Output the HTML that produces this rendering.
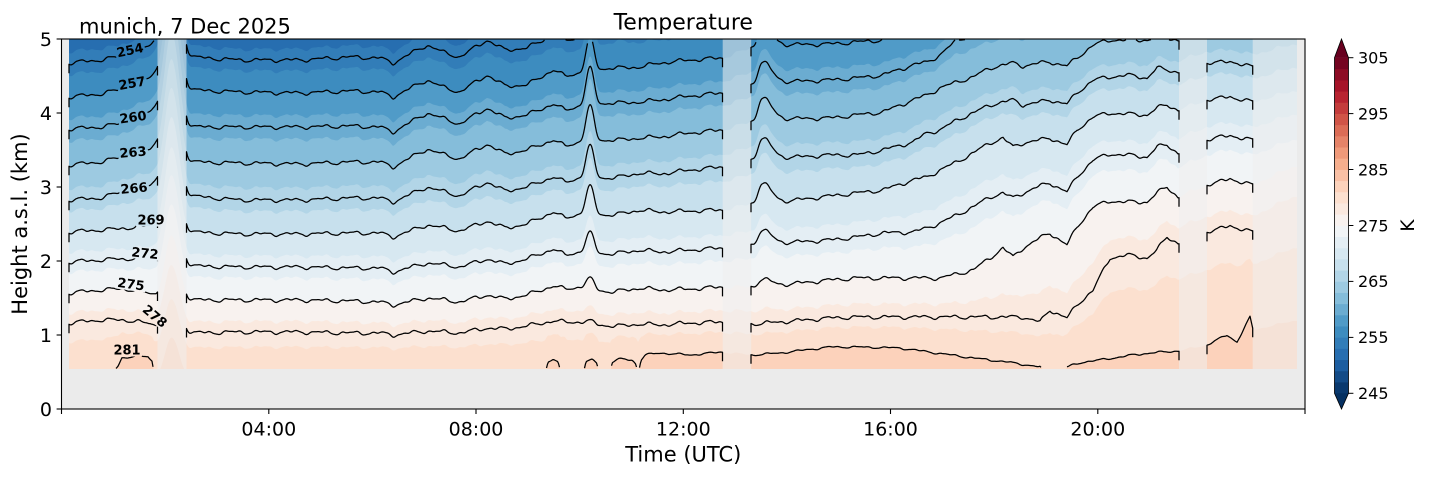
<!DOCTYPE html>
<html><head><meta charset="utf-8">
<style>
html,body{margin:0;padding:0;background:#fff;}
svg{display:block;}
text{font-family:"DejaVu Sans","Liberation Sans",sans-serif;fill:#000;}
</style></head>
<body>
<svg id="s" width="1429" height="478" viewBox="0 0 1429 478" xmlns="http://www.w3.org/2000/svg">
<defs>
 <linearGradient id="fb" x1="0" y1="0" x2="0" y2="1">
   <stop offset="0" stop-color="#3a86bf"/>
   <stop offset="0.3" stop-color="#7fb6d8"/>
   <stop offset="0.55" stop-color="#c9e0ee"/>
   <stop offset="0.78" stop-color="#f3eeeb"/>
   <stop offset="1" stop-color="#fcd7c2"/>
 </linearGradient>
 <linearGradient id="cbg" x1="0" y1="1" x2="0" y2="0">
   <stop offset="0" stop-color="#053061"/><stop offset="0.1" stop-color="#2166ac"/>
   <stop offset="0.2" stop-color="#4393c3"/><stop offset="0.3" stop-color="#92c5de"/>
   <stop offset="0.4" stop-color="#d1e5f0"/><stop offset="0.5" stop-color="#f7f7f7"/>
   <stop offset="0.6" stop-color="#fddbc7"/><stop offset="0.7" stop-color="#f4a582"/>
   <stop offset="0.8" stop-color="#d6604d"/><stop offset="0.9" stop-color="#b2182b"/>
   <stop offset="1" stop-color="#67001f"/>
 </linearGradient>
 <clipPath id="dc"><rect x="69" y="39" width="1228" height="330"/></clipPath>
 <mask id="lm" maskUnits="userSpaceOnUse" x="0" y="0" width="1429" height="478">
   <rect x="0" y="0" width="1429" height="478" fill="#fff"/>
   <g fill="#000">
     <rect x="-15" y="-6.5" width="30" height="13" transform="translate(130,50) rotate(-12)"/>
     <rect x="-15" y="-6.5" width="30" height="13" transform="translate(132,83) rotate(-10)"/>
     <rect x="-15" y="-6.5" width="30" height="13" transform="translate(133,117) rotate(-8)"/>
     <rect x="-15" y="-6.5" width="30" height="13" transform="translate(133,152) rotate(-5)"/>
     <rect x="-15" y="-6.5" width="30" height="13" transform="translate(134,188) rotate(-5)"/>
     <rect x="-15" y="-6.5" width="30" height="13" transform="translate(151,220) rotate(0)"/>
     <rect x="-15" y="-6.5" width="30" height="13" transform="translate(145,253) rotate(6)"/>
     <rect x="-15" y="-6.5" width="30" height="13" transform="translate(131,284) rotate(8)"/>
     <rect x="-15" y="-6.5" width="30" height="13" transform="translate(155,316) rotate(40)"/>
     <rect x="-15" y="-6.5" width="30" height="13" transform="translate(127,350) rotate(0)"/>
   </g>
 </mask>
</defs>

<rect x="61.5" y="39" width="1243.5" height="370" fill="#ebebeb"/>

<g clip-path="url(#dc)">
  <rect x="69" y="39" width="1228" height="330" fill="url(#fb)"/>
  <g id="fills"></g>
</g>

<g fill="#eeeeee" fill-opacity="0.55">
  <rect x="157.5" y="39" width="29" height="330"/>
  <rect x="722.7" y="39" width="28.5" height="330"/>
  <rect x="1179" y="39" width="28" height="330"/>
  <rect x="1252.7" y="39" width="44.3" height="330"/>
</g>

<g id="lines" fill="none" stroke="#000" stroke-width="1.25" stroke-linejoin="round" mask="url(#lm)"></g>

<g font-size="13" font-weight="bold" text-anchor="middle">
  <text transform="translate(130,50) rotate(-12)" y="4.7">254</text>
  <text transform="translate(132,83) rotate(-10)" y="4.7">257</text>
  <text transform="translate(133,117) rotate(-8)" y="4.7">260</text>
  <text transform="translate(133,152) rotate(-5)" y="4.7">263</text>
  <text transform="translate(134,188) rotate(-5)" y="4.7">266</text>
  <text transform="translate(151,220) rotate(0)" y="4.7">269</text>
  <text transform="translate(145,253) rotate(6)" y="4.7">272</text>
  <text transform="translate(131,284) rotate(8)" y="4.7">275</text>
  <text transform="translate(155,316) rotate(40)" y="4.7">278</text>
  <text transform="translate(127,350) rotate(0)" y="4.7">281</text>
</g>

<rect x="61.5" y="39" width="1243.5" height="370" fill="none" stroke="#000" stroke-width="1.1"/>

<g stroke="#000" stroke-width="1.1">
  <line x1="56.6" y1="409" x2="61.5" y2="409"/>
  <line x1="56.6" y1="335" x2="61.5" y2="335"/>
  <line x1="56.6" y1="261" x2="61.5" y2="261"/>
  <line x1="56.6" y1="187" x2="61.5" y2="187"/>
  <line x1="56.6" y1="113" x2="61.5" y2="113"/>
  <line x1="56.6" y1="39" x2="61.5" y2="39"/>
</g>
<g font-size="19" text-anchor="end">
  <text x="52" y="416">0</text>
  <text x="52" y="342">1</text>
  <text x="52" y="268">2</text>
  <text x="52" y="194">3</text>
  <text x="52" y="120">4</text>
  <text x="52" y="46">5</text>
</g>

<g stroke="#000" stroke-width="1.1">
  <line x1="61.5" y1="409" x2="61.5" y2="414"/>
  <line x1="268.8" y1="409" x2="268.8" y2="414"/>
  <line x1="476" y1="409" x2="476" y2="414"/>
  <line x1="683.3" y1="409" x2="683.3" y2="414"/>
  <line x1="890.5" y1="409" x2="890.5" y2="414"/>
  <line x1="1097.8" y1="409" x2="1097.8" y2="414"/>
  <line x1="1305" y1="409" x2="1305" y2="414"/>
</g>
<g font-size="19" text-anchor="middle">
  <text x="268.8" y="435.5">04:00</text>
  <text x="476" y="435.5">08:00</text>
  <text x="683.3" y="435.5">12:00</text>
  <text x="890.5" y="435.5">16:00</text>
  <text x="1097.8" y="435.5">20:00</text>
</g>

<text x="683.3" y="461.5" font-size="21" text-anchor="middle">Time (UTC)</text>
<text transform="translate(27,224) rotate(-90)" font-size="21" text-anchor="middle">Height a.s.l. (km)</text>
<text x="683.3" y="29.5" font-size="22" text-anchor="middle">Temperature</text>
<text x="79" y="33.7" font-size="21">munich, 7 Dec 2025</text>

<rect x="1334.5" y="57.7" width="14" height="335.6" fill="url(#cbg)"/>
<g id="cbands"></g>
<polygon points="1334.5,57.7 1348.5,57.7 1341.5,39" fill="#67001f"/>
<polygon points="1334.5,393.3 1348.5,393.3 1341.5,409" fill="#053061"/>
<path d="M1334.5,57.7 L1341.5,39 L1348.5,57.7 L1348.5,393.3 L1341.5,409 L1334.5,393.3 Z" fill="none" stroke="#000" stroke-width="0.8"/>
<g stroke="#000" stroke-width="1">
  <line x1="1348.5" y1="57.7" x2="1353.4" y2="57.7"/>
  <line x1="1348.5" y1="113.6" x2="1353.4" y2="113.6"/>
  <line x1="1348.5" y1="169.5" x2="1353.4" y2="169.5"/>
  <line x1="1348.5" y1="225.5" x2="1353.4" y2="225.5"/>
  <line x1="1348.5" y1="281.4" x2="1353.4" y2="281.4"/>
  <line x1="1348.5" y1="337.4" x2="1353.4" y2="337.4"/>
  <line x1="1348.5" y1="393.3" x2="1353.4" y2="393.3"/>
</g>
<g font-size="16">
  <text x="1358" y="63.5">305</text>
  <text x="1358" y="119.4">295</text>
  <text x="1358" y="175.3">285</text>
  <text x="1358" y="231.3">275</text>
  <text x="1358" y="287.2">265</text>
  <text x="1358" y="343.2">255</text>
  <text x="1358" y="399.1">245</text>
</g>
<text transform="translate(1414,225.5) rotate(-90)" font-size="18.5" text-anchor="middle">K</text>
</svg>

<script>
(function(){
var C=[[5,48,97],[33,102,172],[67,147,195],[146,197,222],[209,229,240],[247,247,247],[253,219,199],[244,165,130],[214,96,77],[178,24,43],[103,0,31]];
function cmap(t){
  if(t<0)return 'rgb(5,48,97)'; if(t>1)return 'rgb(103,0,31)';
  var s=t*10,i=Math.min(9,Math.floor(s)),f=s-i,a=C[i],b=C[i+1];
  return 'rgb('+Math.round(a[0]+f*(b[0]-a[0]))+','+Math.round(a[1]+f*(b[1]-a[1]))+','+Math.round(a[2]+f*(b[2]-a[2]))+')';
}
var T=[
[69,63,97,129,165,200,232,262,293,323],
[100,60,94,127,162,198,230,260,290,320],
[118,57,90,124,158,193,229,259,289,320],
[125,54,87,120,155,190,228,259,289,320],
[140,49,82,115,151,187,227,258,291,322],
[150,46,78,112,150,186,226,258,294,324],
[156,44,76,110,147,184,226,258,297,328],
[172,48,82,117,152,189,228,262,298,331],
[188,57,90,127,162,196,232,266,300,333],
[240,60,92,127,163,200,234,267,300,332],
[300,60,93,127,164,200,234,267,300,332],
[350,57,91,126,162,198,233,268,301,333],
[380,58,92,127,162,198,233,268,302,333],
[393,63,97,132,167,202,237,272,305,335],
[427,45,80,113,149,187,225,263,298,331],
[445,53,88,119,155,192,228,265,300,332],
[460,57,92,124,159,196,231,267,302,333],
[487,40,75,108,144,182,221,259,295,328],
[505,50,86,118,154,191,228,264,299,329],
[527,48,85,115,150,187,224,259,295,326],
[553,35,70,104,140,177,212,249,286,321],
[565,40,76,110,146,182,218,255,289,322],
[580,38,73,106,142,178,214,252,287,322],
[610,30,68,103,140,178,215,254,292,326],
[620,28,68,103,140,177,214,253,291,326],
[640,30,67,102,138,173,210,250,288,324],
[660,28,63,100,137,174,212,252,290,325],
[690,25,60,96,133,170,211,250,289,323],
[722,24,58,93,130,167,210,248,287,322],
[752,12,48,85,122,160,204,245,287,324],
[780,10,45,82,119,158,202,243,285,322],
[830,9,44,80,118,155,196,240,280,318],
[857,8,42,78,115,155,193,237,278,317],
[883,5,40,75,112,150,190,233,278,317],
[913,-5,30,65,100,142,180,232,278,317],
[927,-8,27,62,95,133,177,228,278,317],
[940,-12,22,55,88,130,170,223,278,317],
[957,-20,12,40,82,120,162,215,274,317],
[973,-25,8,35,77,113,153,207,270,317],
[990,-30,2,28,68,105,143,197,258,317],
[1003,-32,0,25,65,102,138,193,248,317],
[1013,-30,3,28,63,100,147,198,257,317],
[1023,-32,0,25,66,105,143,193,248,317],
[1040,-35,-2,22,63,102,140,186,238,322],
[1050,-35,-2,22,62,100,138,183,233,310],
[1067,-32,2,27,66,104,145,192,245,318],
[1077,-38,-5,18,58,93,130,177,227,305],
[1093,-45,-12,10,45,80,117,160,207,290],
[1110,-48,-15,5,40,77,113,154,201,258],
[1127,-48,-15,5,40,75,114,155,202,255],
[1147,-48,-15,5,40,78,115,157,202,258],
[1157,-50,-17,2,38,68,108,147,193,250],
[1167,-50,-17,2,38,70,105,145,187,237],
[1178,-48,-15,5,40,72,110,153,197,243],
[1207,-52,-20,0,28,63,100,140,185,232],
[1217,-52,-20,0,28,63,99,138,183,230],
[1230,-54,-22,-2,25,61,96,135,178,225],
[1237,-53,-21,-1,27,63,99,137,181,228],
[1243,-52,-20,0,28,65,100,139,183,230],
[1252,-50,-18,2,30,67,102,140,185,232],
[1297,-60,-28,-8,20,55,90,125,165,210]
];
var P=[[69,380],[110,376],[118,366],[122,358],[135,356],[148,357],[152,362],[154,374],[160,378],[300,377],[380,376],[530,376],[545,374],[548,362],[553,359],[558,362],[561,374],[565,369],[567,374],[583,374],[586,362],[592,360],[597,363],[599,374],[610,374],[612,362],[620,359],[632,360],[636,364],[638,374],[641,360],[645,355],[660,353],[690,355],[722,352],[752,355],[780,353],[830,347],[857,347],[900,348],[973,358],[1007,362],[1040,367],[1047,376],[1063,376],[1067,367],[1083,362],[1100,360],[1133,355],[1150,353],[1178,351],[1207,345],[1227,335],[1237,342],[1247,323],[1250,317],[1253,330],[1297,320]];
function tab(x){
  var i=0; while(i<T.length-2 && T[i+1][0]<x) i++;
  var a=T[i],b=T[i+1],f=(x-a[0])/(b[0]-a[0]); f=Math.max(0,Math.min(1,f));
  var r=[]; for(var k=1;k<10;k++) r.push(a[k]+f*(b[k]-a[k])); return r;
}
function pl(x){
  var i=0; while(i<P.length-2 && P[i+1][0]<x) i++;
  var a=P[i],b=P[i+1],f=(x-a[0])/(b[0]-a[0]); f=Math.max(0,Math.min(1,f));
  return a[1]+f*(b[1]-a[1]);
}
function g(x,c,s){var d=(x-c)/s;return Math.exp(-0.5*d*d);}
var S590=[35,33,37,35,32,28,20,10,2,0],S762=[22,22,22,23,21,20,14,7,0,0],S172=[110,104,98,92,86,80,72,62,50,40];
function ys(x){
  var r=tab(x); r.push(pl(x));
  var w=1.3*Math.sin(0.21*x)+0.9*Math.sin(0.43*x+2)+0.35*Math.sin(0.8*x+1);
  var g7=x<762?g(x,762,4):g(x,762,9), g5=g(x,590,4), g1=g(x,172,7);
  for(var k=0;k<10;k++){ r[k]+=(k==9?0.5:1)*w-S590[k]*g5-S762[k]*g7-S172[k]*g1; }
  return r;
}
function yOf(r,v){
  if(v<=254) return r[0]+(v-254)/3*(r[1]-r[0]);
  if(v>=281) return r[9]+(v-281)/3*Math.max(60,2.2*(r[9]-r[8]));
  var k=Math.floor((v-254)/3),f=(v-254-3*k)/3;
  return r[k]+f*(r[k+1]-r[k]);
}
var X=[],R=[];
for(var x=69;x<=1297;x+=1){X.push(x);R.push(ys(x));}
var h='<rect x="69" y="39" width="1228" height="330" fill="rgb(103,0,31)"/>';
for(var v=305;v>=245;v-=2){
  var col=(v===245)?'rgb(5,48,97)':cmap((v-1-245)/60);
  var d='M69,38';
  for(var i=0;i<X.length;i++){var y=yOf(R[i],v); y=Math.max(38,Math.min(370,y)); d+='L'+X[i]+','+y.toFixed(1);}
  d+='L1297,38Z';
  h+='<path d="'+d+'" fill="'+col+'"/>';
}
document.getElementById('fills').innerHTML=h;

var SEG=[[69,157.5],[186.5,722.5],[751,1179],[1207,1252.7]];
var L='';
for(var k=0;k<10;k++){
  for(var s=0;s<SEG.length;s++){
    var a=SEG[s][0],b=SEG[s][1],xs=[];
    for(var xx=a;xx<b;xx+=1) xs.push(xx); xs.push(b);
    var d='',on=false,first=true,lastIn=false,ly=0;
    for(var j=0;j<xs.length;j++){
      var y=ys(xs[j])[k];
      var inside=(y>39.5&&y<368.5);
      if(inside){
        if(!on){
          if(first){ d+='M'+xs[j].toFixed(1)+','+Math.min(368.5,y+9).toFixed(1)+'L'+xs[j].toFixed(1)+','+y.toFixed(1); }
          else d+='M'+xs[j].toFixed(1)+','+y.toFixed(1);
          on=true;
        } else d+='L'+xs[j].toFixed(1)+','+y.toFixed(1);
      } else on=false;
      first=false; lastIn=inside; ly=y;
    }
    if(lastIn) d+='L'+b.toFixed(1)+','+Math.min(368.5,ly+9).toFixed(1);
    if(d) L+='<path d="'+d+'"/>';
  }
}
document.getElementById('lines').innerHTML=L;

var cb='';
for(var q=0;q<30;q++){
  var yt=393.3-(q+1)*11.1867;
  cb+='<rect x="1334.5" y="'+yt.toFixed(2)+'" width="14" height="11.5" fill="'+cmap((2*q+1)/60)+'"/>';
}
document.getElementById('cbands').innerHTML=cb;
})();
</script>
</body></html>
